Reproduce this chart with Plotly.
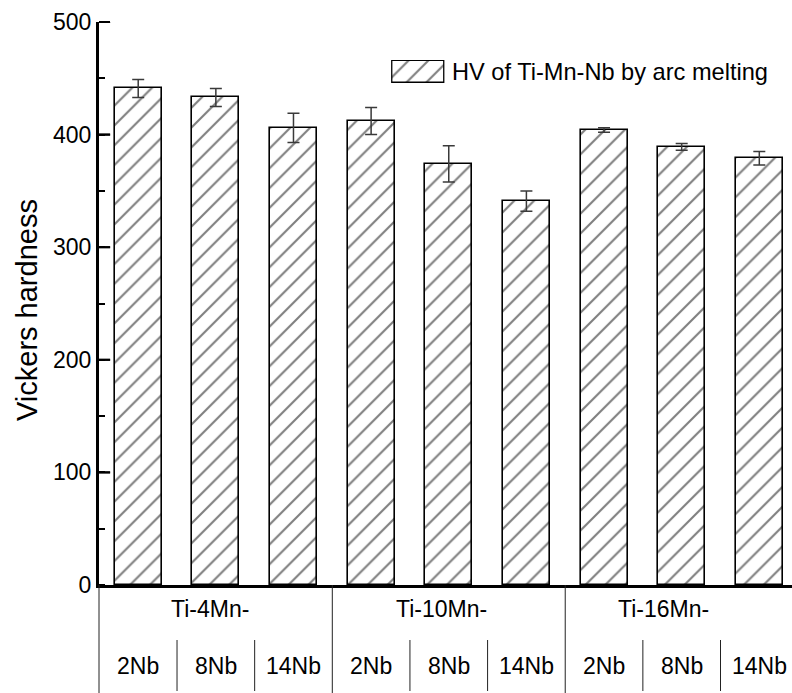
import plotly.graph_objects as go

# Vickers hardness of arc-melted Ti-Mn-Nb alloys
groups = ["Ti-4Mn-", "Ti-10Mn-", "Ti-16Mn-"]
nb_levels = ["2Nb", "8Nb", "14Nb"]
hardness = [441, 433, 406, 412, 374, 341, 404, 389, 379]
hardness_err = [8, 8, 13, 12, 16, 9, 2, 3, 6]
legend_text = "HV of Ti-Mn-Nb by arc melting"
y_title = "Vickers hardness"
y_range = [0, 500]
y_major = [100, 200, 300, 400, 500]

FONT = "Liberation Sans, Arial, sans-serif"
W, H = 792, 693
M_L, M_R, M_T, M_B = 99, 0, 22, 108
PW, PH = W - M_L - M_R, H - M_T - M_B

n_sub = len(nb_levels)
positions = list(range(len(hardness)))
x_lo = -0.505
x_hi = 8.421

def px_x(p):
    return (p - M_L) / PW

def px_y(p):
    return (H - M_B - p) / PH

def val_to_paper(v):
    return (v - y_range[0]) / (y_range[1] - y_range[0])

hatch = dict(shape="/", size=14, solidity=0.15, fgcolor="black", bgcolor="white", fillmode="overlay")

fig = go.Figure()
fig.add_trace(go.Bar(
    x=positions, y=hardness, width=0.605,
    marker=dict(color="white", pattern=hatch, line=dict(color="black", width=1.6)),
    error_y=dict(type="data", array=hardness_err, visible=True,
                 color="#3a3a3a", thickness=1.5, width=6),
    showlegend=False, hoverinfo="skip",
))

# long inward ticks at every hundred, centred on the y axis line (outer half clipped)
fig.add_trace(go.Scatter(
    x=[x_lo] * len(y_major), y=y_major, mode="markers", cliponaxis=True,
    marker=dict(symbol="line-ew-open", size=16, color="black",
                line=dict(color="black", width=2)),
    showlegend=False, hoverinfo="skip",
))

# legend swatch drawn as a single hatched bar on an inset axis
fig.add_trace(go.Bar(
    x=[0], y=[1], width=1, xaxis="x2", yaxis="y2",
    marker=dict(color="white", pattern=hatch, line=dict(color="black", width=1.3)),
    showlegend=False, hoverinfo="skip",
))

shapes = []
annotations = []

for v in y_major:
    shapes.append(dict(type="line", xref="paper", yref="paper", layer="above",
                       x0=0, x1=11 / PW, y0=val_to_paper(v), y1=val_to_paper(v),
                       line=dict(color="black", width=2)))

# category table below the axis
shapes.append(dict(type="line", xref="paper", yref="paper", x0=0, x1=0,
                   y0=0, y1=px_y(H), line=dict(color="#222", width=1)))
for i in range(1, len(hardness)):
    if i % n_sub == 0:
        y0, y1 = 0, px_y(H)
    else:
        y0, y1 = px_y(640), px_y(691)
    shapes.append(dict(type="line", xref="x", yref="paper", x0=i - 0.5, x1=i - 0.5,
                       y0=y0, y1=y1, line=dict(color="#222", width=1)))

group_nudge = [-6, -7, -18]
for g, name in enumerate(groups):
    annotations.append(dict(text=name, x=g * n_sub + (n_sub - 1) / 2, xref="x",
                            y=px_y(609), yref="paper", xshift=group_nudge[g],
                            showarrow=False, xanchor="center", yanchor="middle",
                            font=dict(family=FONT, size=23, color="black")))
for i in positions:
    annotations.append(dict(text=nb_levels[i % n_sub], x=i, xref="x",
                            y=px_y(666), yref="paper",
                            showarrow=False, xanchor="center", yanchor="middle",
                            font=dict(family=FONT, size=23, color="black")))

annotations.append(dict(text=legend_text, x=px_x(450), y=px_y(72), xref="paper", yref="paper",
                        showarrow=False, xanchor="left", yanchor="middle",
                        font=dict(family=FONT, size=23.6, color="black")))
annotations.append(dict(text=y_title, x=px_x(27), y=px_y(310), xref="paper", yref="paper",
                        textangle=-90, showarrow=False, xanchor="center", yanchor="middle",
                        font=dict(family=FONT, size=29, color="black")))

fig.update_layout(
    width=W, height=H,
    margin=dict(l=M_L, r=M_R, t=M_T, b=M_B),
    paper_bgcolor="white", plot_bgcolor="white",
    font=dict(family=FONT, size=23, color="black"),
    bargap=0,
    xaxis=dict(range=[x_lo, x_hi], showticklabels=False, ticks="", showgrid=False,
               zeroline=False, showline=True, linecolor="black", linewidth=2.8),
    yaxis=dict(range=y_range, tickmode="array", tickvals=[0] + y_major, ticks="",
               showgrid=False, zeroline=False, showline=True,
               linecolor="black", linewidth=3,
               tickfont=dict(family=FONT, size=23, color="black"),
               minor=dict(tick0=0, dtick=50, ticks="inside", ticklen=6, tickwidth=2,
                          tickcolor="black", showgrid=False)),
    xaxis2=dict(domain=[px_x(389.4), px_x(446.6)], range=[-0.55, 0.55], anchor="y2",
                visible=False, fixedrange=True),
    yaxis2=dict(domain=[px_y(84.1), px_y(59.9)], range=[-0.05, 1.05], anchor="x2",
                visible=False, fixedrange=True),
    shapes=shapes,
    annotations=annotations,
)

fig.write_html("out.html")
